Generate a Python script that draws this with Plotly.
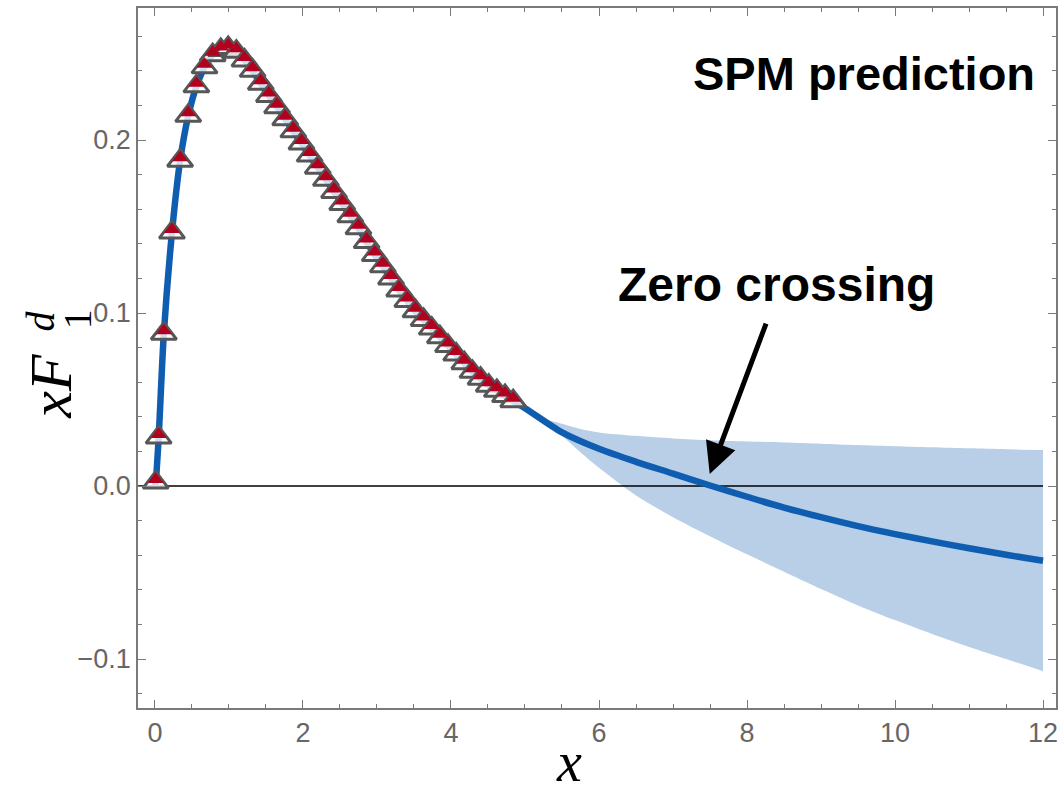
import plotly.graph_objects as go

# ---------------- data ----------------
# lattice data points (triangles)
data_x = [0.01, 0.05, 0.12, 0.23, 0.34, 0.45, 0.56, 0.67, 0.78, 0.89, 0.99, 1.10, 1.21,
          1.32, 1.43, 1.54, 1.65, 1.76, 1.87, 1.98, 2.09, 2.20, 2.31, 2.42, 2.53, 2.64,
          2.75, 2.86, 2.97, 3.08, 3.19, 3.30, 3.41, 3.52, 3.63, 3.74, 3.85, 3.96, 4.07,
          4.18, 4.29, 4.40, 4.51, 4.62, 4.73, 4.84]
data_y = [0.002, 0.028, 0.088, 0.1465, 0.188, 0.214, 0.231, 0.242, 0.249, 0.252, 0.2532,
          0.251, 0.246, 0.240, 0.2325, 0.2255, 0.219, 0.212, 0.205, 0.198, 0.191, 0.184,
          0.177, 0.170, 0.163, 0.156, 0.149, 0.141, 0.1335, 0.127, 0.120, 0.113, 0.107,
          0.101, 0.096, 0.091, 0.086, 0.081, 0.076, 0.071, 0.066, 0.062, 0.058, 0.055,
          0.052, 0.049]

# SPM prediction (central curve) beyond data
pred_x = [5.0, 5.5, 6.0, 6.5, 7.0, 7.5, 8.0, 8.5, 9.0, 9.5, 10.0, 10.5, 11.0, 11.5, 12.0]
pred_y = [0.0450, 0.0310, 0.0215, 0.0140, 0.0072, 0.0003, -0.0062, -0.0125, -0.0180,
          -0.0232, -0.0278, -0.0320, -0.0360, -0.0397, -0.0432]

# uncertainty band
band_x = [4.9, 5.0, 5.25, 5.5, 5.75, 6.0, 6.5, 7.0, 7.5, 8.0, 8.5, 9.0, 9.5, 10.0,
          10.5, 11.0, 11.5, 12.0]
band_upper = [0.047, 0.045, 0.039, 0.036, 0.033, 0.031, 0.029, 0.0275, 0.0265, 0.0258,
              0.0252, 0.0245, 0.0237, 0.023, 0.0224, 0.0218, 0.0213, 0.0208]
band_lower = [0.047, 0.0445, 0.0375, 0.029, 0.0195, 0.0105, -0.0055, -0.0180, -0.0290,
              -0.0395, -0.0495, -0.0595, -0.0690, -0.0775, -0.0855, -0.0930, -0.1000, -0.1070]

x_ticks = [0, 2, 4, 6, 8, 10, 12]
y_ticks = [-0.1, 0.0, 0.1, 0.2]
y_ticklabels = ["\u22120.1", "0.0", "0.1", "0.2"]

x_range = [-0.229, 12.175]
y_range = [-0.1283, 0.2763]

# ---------------- styles ----------------
BLUE = "#0f5db1"
BAND = "#b8cfe7"
RED = "#b3001f"
GRAY_EDGE = "#575757"
AXIS = "#7a7a7a"
TICKTXT = "#666666"

fig = go.Figure()

# band
fig.add_trace(go.Scatter(x=band_x, y=band_upper, mode="lines", line=dict(width=0, color=BAND, smoothing=0.8),
                         line_shape="spline", showlegend=False, hoverinfo="skip"))
fig.add_trace(go.Scatter(x=band_x, y=band_lower, mode="lines", line=dict(width=0, color=BAND, smoothing=0.8),
                         line_shape="spline", fill="tonexty", fillcolor=BAND,
                         showlegend=False, hoverinfo="skip"))

# zero line
fig.add_trace(go.Scatter(x=[x_range[0], x_ticks[-1]], y=[0, 0], mode="lines",
                         line=dict(color="black", width=1.5), showlegend=False, hoverinfo="skip"))

# central curve
line_x = [0.0] + data_x + pred_x
line_y = [0.0] + data_y + pred_y
fig.add_trace(go.Scatter(x=line_x, y=line_y, mode="lines",
                         line=dict(color=BLUE, width=6.5, smoothing=0.8),
                         line_shape="spline", showlegend=False))

# data markers: outlined triangles with red inner triangle in the upper part
fig.add_trace(go.Scatter(x=data_x, y=data_y, mode="markers",
                         marker=dict(symbol="triangle-up", size=22, color="rgba(255,255,255,0.8)",
                                     line=dict(color=GRAY_EDGE, width=3)),
                         showlegend=False))
fig.add_trace(go.Scatter(x=data_x, y=data_y, mode="markers",
                         marker=dict(symbol="triangle-down", size=14, color=RED, angle=180, standoff=3,
                                     line=dict(width=0)),
                         showlegend=False))

axis_common = dict(showline=True, linecolor=AXIS, linewidth=1.5, mirror="allticks",
                   ticks="inside", tickcolor=AXIS, tickwidth=1.2, showgrid=False,
                   zeroline=False, tickfont=dict(family="Liberation Sans, Arial", size=27, color=TICKTXT))

fig.update_xaxes(range=x_range, tickvals=x_ticks, ticklen=8,
                 minor=dict(dtick=0.5, tick0=0, ticks="inside", ticklen=4.5, tickcolor=AXIS, tickwidth=1.2),
                 **axis_common)
fig.update_yaxes(range=y_range, tickvals=y_ticks, ticktext=y_ticklabels, ticklen=8,
                 minor=dict(dtick=0.02, tick0=0, ticks="inside", ticklen=4.5, tickcolor=AXIS, tickwidth=1.2),
                 **axis_common)

serif = "Liberation Serif, Times New Roman, serif"
bold_sans = "Liberation Sans, Arial, Helvetica"

annotations = [
    dict(text="<b>SPM prediction</b>", x=(866 - 155) / 74.17, y=0.2382, xref="x", yref="y",
         showarrow=False, xanchor="center", yanchor="middle",
         font=dict(family=bold_sans, size=47, color="black")),
    dict(text="<b>Zero crossing</b>", x=8.393, y=0.1167, xref="x", yref="y", showarrow=False,
         xanchor="center", yanchor="middle",
         font=dict(family=bold_sans, size=48, color="black")),
    dict(text="", x=7.496, y=0.0069, ax=8.265, ay=0.0948, xref="x", yref="y",
         axref="x", ayref="y", showarrow=True, arrowhead=2, arrowsize=1.25, arrowwidth=5,
         arrowcolor="black"),
    dict(text="<i>x</i>", x=0.47, y=-0.077, xref="paper", yref="paper", showarrow=False,
         xanchor="center", yanchor="middle",
         font=dict(family=serif, size=56, color="black")),
    dict(text="<i>xF</i>", x=-0.095, y=0.46, xref="paper", yref="paper", showarrow=False,
         xanchor="center", yanchor="middle",
         textangle=-90, font=dict(family=serif, size=60, color="black")),
    dict(text="<i>d</i>", x=-0.106, y=0.553, xref="paper", yref="paper", showarrow=False,
         xanchor="center", yanchor="middle",
         textangle=-90, font=dict(family=serif, size=40, color="black")),
    dict(text="1", x=-0.066, y=0.556, xref="paper", yref="paper", showarrow=False,
         xanchor="center", yanchor="middle",
         textangle=-90, font=dict(family=serif, size=40, color="black")),
]

fig.update_layout(width=1061, height=796, margin=dict(l=138, r=3, t=8, b=88),
                  plot_bgcolor="white", paper_bgcolor="white", annotations=annotations,
                  showlegend=False)

fig.write_html("out.html", config={"displayModeBar": False},
               post_script="document.body.style.margin='0px';")
